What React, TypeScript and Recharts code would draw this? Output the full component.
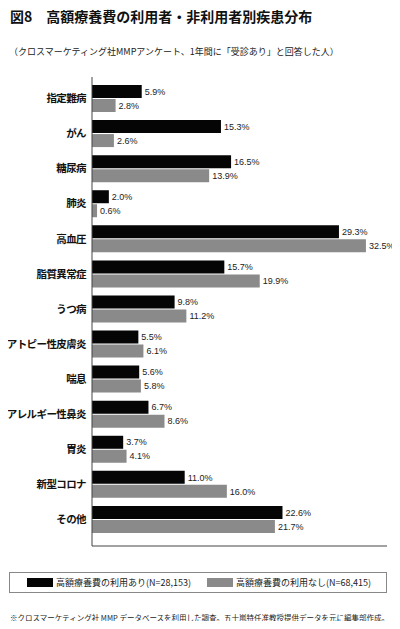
import { Bar, BarChart, LabelList, XAxis, YAxis } from "recharts";

const categories = [
  "指定難病",
  "がん",
  "糖尿病",
  "肺炎",
  "高血圧",
  "脂質異常症",
  "うつ病",
  "アトピー性皮膚炎",
  "喘息",
  "アレルギー性鼻炎",
  "胃炎",
  "新型コロナ",
  "その他",
];
const usersYes = [5.9, 15.3, 16.5, 2.0, 29.3, 15.7, 9.8, 5.5, 5.6, 6.7, 3.7, 11.0, 22.6];
const usersNo = [2.8, 2.6, 13.9, 0.6, 32.5, 19.9, 11.2, 6.1, 5.8, 8.6, 4.1, 16.0, 21.7];
const seriesNames = ["高額療養費の利用あり(N=28,153)", "高額療養費の利用なし(N=68,415)"];

const TITLE = "図8　高額療養費の利用者・非利用者別疾患分布";
const SUBTITLE = "（クロスマーケティング社MMPアンケート、1年間に「受診あり」と回答した人）";
const NOTE = "※クロスマーケティング社 MMP データベースを利用した調査。五十嵐特任准教授提供データを元に編集部作成。";

const JP = '"Noto Sans CJK JP", "Noto Sans", sans-serif';
const NUM = '"Liberation Sans", Arial, sans-serif';
const BLACK = "#050505";
const GRAY = "#8a8a8a";

const data = categories.map((name, i) => ({ name, yes: usersYes[i], no: usersNo[i] }));

const pct = (v: unknown) => `${Number(v).toFixed(1)}%`;

export default function App() {
  return (
    <div style={{ position: "relative", width: 400, height: 629, margin: -8, background: "#fff", overflow: "hidden" }}>
      <div
        style={{
          position: "absolute",
          left: 10,
          top: 6,
          fontFamily: JP,
          fontWeight: 700,
          fontSize: 14,
          color: "#111",
          whiteSpace: "nowrap",
        }}
      >
        {TITLE}
      </div>
      <div
        style={{
          position: "absolute",
          left: 9,
          top: 45,
          fontFamily: JP,
          fontSize: 9,
          color: "#222",
          whiteSpace: "nowrap",
        }}
      >
        {SUBTITLE}
      </div>

      <div style={{ position: "absolute", left: 0, top: 0 }}>
        <BarChart
          width={400}
          height={547}
          data={data}
          layout="vertical"
          margin={{ top: 77, right: 13, bottom: 0, left: 0 }}
          barSize={13}
          barGap={1}
          style={{ overflow: "visible" }}
        >
          <XAxis type="number" domain={[0, 35]} tick={false} tickLine={false} height={1} axisLine={{ stroke: "#444" }} />
          <YAxis
            type="category"
            dataKey="name"
            width={92}
            tickLine={false}
            tickSize={4}
            tickMargin={2}
            padding={{ top: 4, bottom: 9 }}
            axisLine={{ stroke: "#444" }}
            tick={{ fontFamily: JP, fontWeight: 700, fontSize: 10.5, fill: "#111", letterSpacing: -0.6 }}
            interval={0}
          />
          <Bar dataKey="yes" fill={BLACK} isAnimationActive={false}>
            <LabelList dataKey="yes" position="right" offset={3} formatter={pct} style={{ fontFamily: NUM, fontSize: 9, fill: "#222" }} />
          </Bar>
          <Bar dataKey="no" fill={GRAY} isAnimationActive={false}>
            <LabelList dataKey="no" position="right" offset={3} formatter={pct} style={{ fontFamily: NUM, fontSize: 9, fill: "#222" }} />
          </Bar>
        </BarChart>
      </div>

      <div
        style={{
          position: "absolute",
          left: 9,
          top: 572,
          width: 376,
          height: 19,
          border: "1px solid #888",
          fontFamily: JP,
          fontSize: 9,
          color: "#222",
        }}
      >
        {seriesNames.map((s, i) => (
          <div
            key={s}
            style={{
              position: "absolute",
              left: i === 0 ? 17 : 197,
              top: 0,
              height: 19,
              display: "flex",
              alignItems: "center",
              whiteSpace: "nowrap",
            }}
          >
            <span style={{ display: "inline-block", width: 26, height: 9, background: i === 0 ? BLACK : GRAY, marginRight: 3 }} />
            {s}
          </div>
        ))}
      </div>

      <div
        style={{
          position: "absolute",
          left: 10,
          top: 612,
          fontFamily: JP,
          fontSize: 7.5,
          color: "#222",
          whiteSpace: "nowrap",
        }}
      >
        {NOTE}
      </div>
    </div>
  );
}
